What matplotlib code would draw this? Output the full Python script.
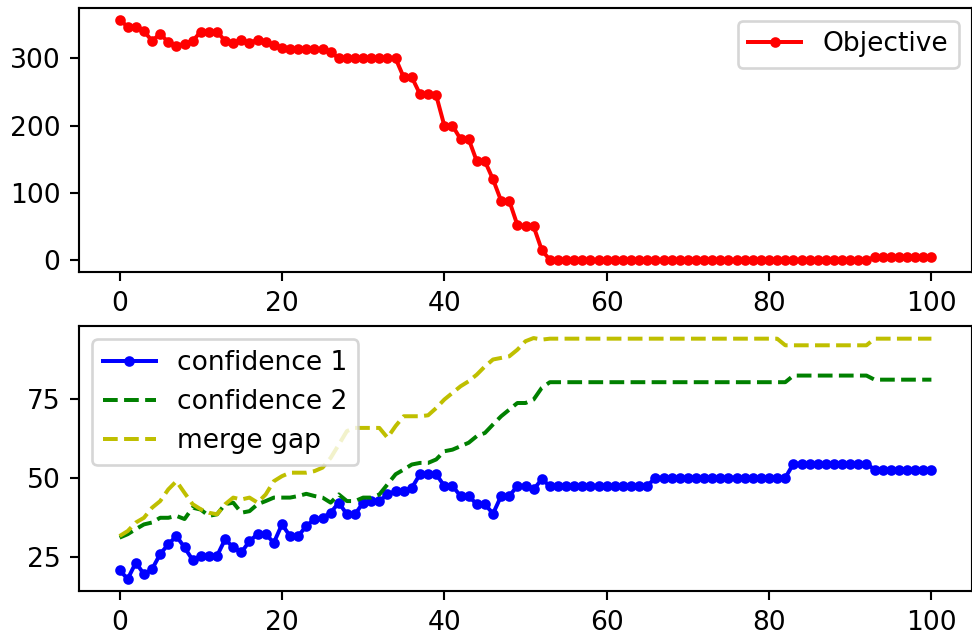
import matplotlib
matplotlib.use("Agg")
import matplotlib.pyplot as plt

# Objective value per iteration
objective = [
    358, 347, 347, 341, 326, 337, 324, 319, 322, 326,
    340, 340, 340, 326, 323, 328, 323, 328, 324, 320,
    316, 314, 314, 314, 314, 314, 310, 300, 300, 300,
    300, 300, 300, 300, 300, 272, 272, 247, 247, 245,
    200, 200, 180, 180, 147, 147, 120, 88, 88, 52,
    50, 50, 15, 0, 0, 0, 0, 0, 0, 0,
    0, 0, 0, 0, 0, 0, 0, 0, 0, 0,
    0, 0, 0, 0, 0, 0, 0, 0, 0, 0,
    0, 0, 0, 0, 0, 0, 0, 0, 0, 0,
    0, 0, 0, 4, 4, 4, 4, 4, 4, 4,
    4,
]

confidence_1 = [
    20.8, 18.0, 23.2, 19.5, 21.1, 25.9, 29.0, 31.6, 28.0, 24.0,
    25.3, 25.3, 25.3, 30.6, 28.0, 26.4, 30.0, 32.2, 32.2, 29.5,
    35.3, 31.6, 31.6, 34.8, 36.9, 37.4, 39.0, 42.2, 38.5, 38.5,
    42.2, 42.7, 42.7, 44.8, 45.9, 45.9, 46.9, 51.2, 51.2, 51.2,
    47.5, 47.5, 44.3, 44.3, 41.7, 41.7, 38.7, 44.3, 44.3, 47.5,
    47.5, 46.4, 49.6, 47.5, 47.5, 47.5, 47.5, 47.5, 47.5, 47.5,
    47.5, 47.5, 47.5, 47.5, 47.5, 47.5, 50.1, 50.1, 50.1, 50.1,
    50.1, 50.1, 50.1, 50.1, 50.1, 50.1, 50.1, 50.1, 50.1, 50.1,
    50.1, 50.1, 50.1, 54.5, 54.5, 54.5, 54.5, 54.5, 54.5, 54.5,
    54.5, 54.5, 54.5, 52.7, 52.7, 52.7, 52.7, 52.7, 52.7, 52.7,
    52.7,
]

confidence_2 = [
    31.1, 32.2, 33.8, 35.3, 35.9, 37.4, 37.4, 38.0, 37.0, 40.6,
    40.0, 38.0, 38.5, 41.7, 42.2, 39.0, 39.5, 41.7, 42.7, 43.8,
    43.8, 43.8, 44.3, 45.0, 44.3, 43.8, 42.2, 44.8, 42.7, 42.7,
    43.8, 43.8, 44.8, 48.0, 51.2, 52.7, 54.3, 54.8, 54.8, 55.9,
    58.5, 59.0, 60.1, 61.2, 63.3, 64.3, 67.0, 69.6, 71.7, 73.8,
    73.8, 74.9, 78.6, 80.4, 80.4, 80.4, 80.4, 80.4, 80.4, 80.4,
    80.4, 80.4, 80.4, 80.4, 80.4, 80.4, 80.4, 80.4, 80.4, 80.4,
    80.4, 80.4, 80.4, 80.4, 80.4, 80.4, 80.4, 80.4, 80.4, 80.4,
    80.4, 80.4, 80.4, 82.5, 82.5, 82.5, 82.5, 82.5, 82.5, 82.5,
    82.5, 82.5, 82.5, 81.2, 81.2, 81.2, 81.2, 81.2, 81.2, 81.2,
    81.2,
]

merge_gap = [
    31.6, 33.2, 35.9, 37.4, 40.6, 42.7, 46.4, 49.0, 45.3, 41.7,
    40.1, 39.0, 38.5, 41.7, 43.8, 43.2, 43.8, 42.2, 44.8, 49.0,
    50.6, 51.7, 51.7, 51.7, 52.2, 53.3, 56.4, 60.6, 64.9, 65.9,
    65.9, 65.9, 65.9, 62.8, 66.5, 69.6, 69.6, 69.6, 69.9, 72.2,
    74.9, 77.0, 79.1, 80.7, 82.8, 85.4, 87.6, 88.1, 88.6, 90.7,
    93.4, 94.4, 93.9, 94.2, 94.2, 94.2, 94.2, 94.2, 94.2, 94.2,
    94.2, 94.2, 94.2, 94.2, 94.2, 94.2, 94.2, 94.2, 94.2, 94.2,
    94.2, 94.2, 94.2, 94.2, 94.2, 94.2, 94.2, 94.2, 94.2, 94.2,
    94.2, 94.2, 92.1, 92.1, 92.1, 92.1, 92.1, 92.1, 92.1, 92.1,
    92.1, 92.1, 92.1, 94.2, 94.2, 94.2, 94.2, 94.2, 94.2, 94.2,
    94.2,
]

conf_ticks = [25, 50, 75]

iterations = list(range(len(objective)))

W, H = 973, 636
DPI = 2.65 * 72
fig = plt.figure(figsize=(W / DPI, H / DPI), dpi=DPI)


def box(left, top, right, bottom):
    return [left / W, 1 - bottom / H, (right - left) / W, (bottom - top) / H]


ax1 = fig.add_axes(box(79, 7.5, 972, 272))
ax2 = fig.add_axes(box(79, 326, 972, 591))

ax1.plot(iterations, objective, "r.-", label="Objective")
ax1.legend(loc="upper right")

ax2.plot(iterations, confidence_1, "b.-", label="confidence 1")
ax2.plot(iterations, confidence_2, "g--", label="confidence 2")
ax2.plot(iterations, merge_gap, "y--", label="merge gap")
ax2.set_yticks(conf_ticks)
ax2.legend(loc="upper left")

fig.savefig("out.png", dpi=DPI)
